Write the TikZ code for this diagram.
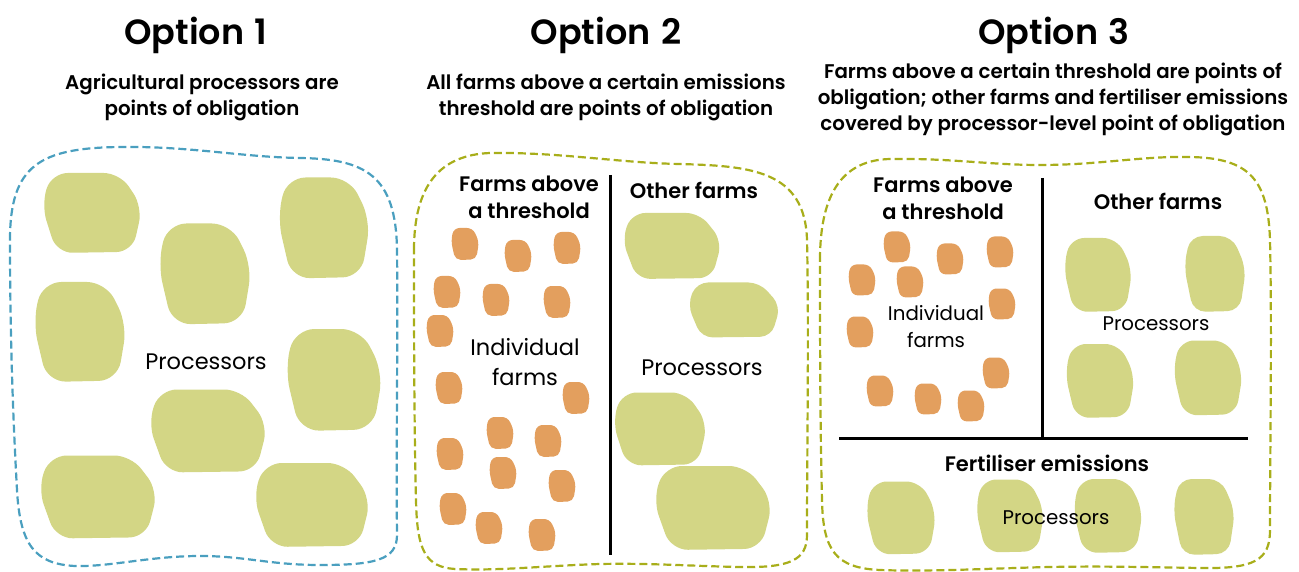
\documentclass[tikz,border=0pt]{standalone}
\usepackage{fontspec}
\setmainfont{Poppins}[BoldFont={Poppins SemiBold}]
\definecolor{blobgreen}{HTML}{D3D685}
\definecolor{blobor}{HTML}{E39F5E}
\definecolor{bnblue}{HTML}{4A9FBF}
\definecolor{bnolive}{HTML}{A8AE1A}
\newcommand\blob[5]{%
  \pgfmathsetmacro\rr{0.2*min(#3,#4)}%
  \fill[#5, rounded corners=\rr pt, shift={(#1,#2)}, xscale=#3/2, yscale=#4/2]
    (-0.8,-1) -- (0.55,-1) -- (1,-0.15) -- (0.8,0.97) -- (-0.7,1) -- (-1,-0.2) -- cycle;}
\tikzset{
  title/.style={font=\bfseries\fontsize{35}{38}\selectfont, inner sep=0pt},
  sub/.style={font=\bfseries\fontsize{19.8}{26}\selectfont, align=center, inner sep=0pt},
  subl/.style={font=\bfseries\fontsize{19.8}{26}\selectfont, align=center, inner sep=0pt},
  head/.style={font=\bfseries\fontsize{21}{27}\selectfont, align=center, inner sep=0pt},
  lbl/.style={font=\fontsize{22.5}{30}\selectfont, align=center, inner sep=0pt},
  lbls/.style={font=\fontsize{19.8}{27}\selectfont, align=center, inner sep=0pt},
  bound/.style={line width=2.2pt, dash pattern=on 8pt off 4pt},
  divider/.style={line width=3pt, black}
}
\begin{document}
\begin{tikzpicture}[x=1pt,y=-1pt]
\useasboundingbox (0,0) rectangle (1299,572);
% ---------- titles
\node[title] (t1) at (196,35) {Option\hspace{0.3em}1};
\node[title] (t2) at (606,35) {Option\hspace{0.3em}2};
\node[title] (t3) at (1054,35) {Option\hspace{0.3em}3};
\node[sub] (s1) at (202,97) {Agricultural processors are\\points of obligation};
\node[sub] (s2) at (606,97) {All farms above a certain emissions\\threshold are points of obligation};
\node[subl] (s3) at (1053,99) {Farms above a certain threshold are points of\\obligation; other farms and fertiliser emissions\\covered by processor-level point of obligation};
% ---------- option 1
\draw[bound, bnblue] (10,240) .. controls (10,165) and (40,148) .. (120,147)
  .. controls (190,146) and (240,157) .. (300,158)
  .. controls (365,159) and (396,175) .. (397,250)
  .. controls (398,340) and (396,450) .. (397,535)
  .. controls (397,560) and (375,565) .. (320,565)
  .. controls (270,565) and (245,556) .. (200,556)
  .. controls (150,556) and (110,567) .. (75,566)
  .. controls (35,564) and (20,545) .. (17,490)
  .. controls (12,400) and (10,320) .. cycle;
\blob{92}{213}{101}{80}{blobgreen}
\blob{205}{274}{94}{101}{blobgreen}
\blob{324}{228}{93}{101}{blobgreen}
\blob{80}{332}{94}{100}{blobgreen}
\blob{334}{380}{98}{102}{blobgreen}
\blob{208}{431}{120}{83}{blobgreen}
\blob{98}{497}{120}{83}{blobgreen}
\blob{312}{505}{118}{84}{blobgreen}
\node[lbl] (p1) at (206,362) {Processors};
% ---------- option 2
\draw[bound, bnolive] (414,250) .. controls (414,185) and (440,155) .. (490,153)
  .. controls (560,152) and (620,163) .. (680,164)
  .. controls (750,166) and (805,170) .. (807,240)
  .. controls (809,330) and (807,450) .. (807,535)
  .. controls (807,560) and (790,568) .. (740,567)
  .. controls (690,566) and (650,563) .. (600,564)
  .. controls (540,566) and (500,571) .. (455,569)
  .. controls (425,567) and (417,550) .. (416,500)
  .. controls (414,420) and (414,320) .. cycle;
\coordinate (v2a) at (610,175);
\coordinate (v2b) at (610,555);
\draw[divider] (v2a) -- (v2b);
\node[head] (f2) at (529,197) {Farms above\\a threshold};
\node[head] (o2) at (694,190) {Other farms};
\node[lbl] (i2) at (525,362) {Individual\\farms};
\node[lbl] (p2) at (702,368) {Processors};
\blob{672}{246}{100}{66}{blobgreen}
\blob{734}{310}{93}{55}{blobgreen}
\blob{660}{429}{95}{73}{blobgreen}
\blob{713}{508}{120}{84}{blobgreen}
\foreach \cx/\cy in {465/244, 518/256, 567/248, 447/292, 496/300, 557/302, 440/331,
  449/388, 576/398, 500/433, 548/441, 450/454, 503/473, 562/486, 453/509, 489/528, 542/535}
  \blob{\cx}{\cy}{28}{32}{blobor};
% ---------- option 3
\draw[bound, bnolive] (820,260) .. controls (820,190) and (845,160) .. (890,159)
  .. controls (950,158) and (990,165) .. (1040,165)
  .. controls (1100,165) and (1140,156) .. (1190,157)
  .. controls (1250,158) and (1268,180) .. (1270,240)
  .. controls (1272,330) and (1270,450) .. (1270,530)
  .. controls (1270,560) and (1255,569) .. (1200,568)
  .. controls (1140,567) and (1100,566) .. (1050,567)
  .. controls (1000,568) and (930,572) .. (880,570)
  .. controls (835,568) and (823,550) .. (822,500)
  .. controls (820,420) and (820,330) .. cycle;
\coordinate (v3a) at (1042,178);
\coordinate (v3b) at (1042,437);
\coordinate (h3a) at (839,438);
\coordinate (h3b) at (1248,438);
\draw[divider] (v3a) -- (v3b);
\draw[divider] (h3a) -- (h3b);
\node[head] (f3) at (943,198) {Farms above\\a threshold};
\node[head] (o3) at (1158,201) {Other farms};
\node[head] (fe3) at (1047,463) {Fertiliser emissions};
\blob{1098}{275}{69}{74}{blobgreen}
\blob{1215}{274}{62}{76}{blobgreen}
\blob{1100}{381}{70}{74}{blobgreen}
\blob{1208}{378}{70}{75}{blobgreen}
\blob{901}{518}{71}{73}{blobgreen}
\blob{1010}{516}{69}{73}{blobgreen}
\blob{1108}{516}{70}{74}{blobgreen}
\blob{1204}{517}{62}{76}{blobgreen}
\foreach \cx/\cy in {897/247, 950/259, 1000/252, 862/280, 910/282, 1002/304, 860/332,
  996/373, 880/391, 928/399, 971/406}
  \blob{\cx}{\cy}{28}{31}{blobor};
\node[lbls] (i3) at (936,327) {Individual\\farms};
\node[lbls] (p3) at (1156,324) {Processors};
\node[lbls] (p4) at (1056,518) {Processors};
\end{tikzpicture}
\end{document}
